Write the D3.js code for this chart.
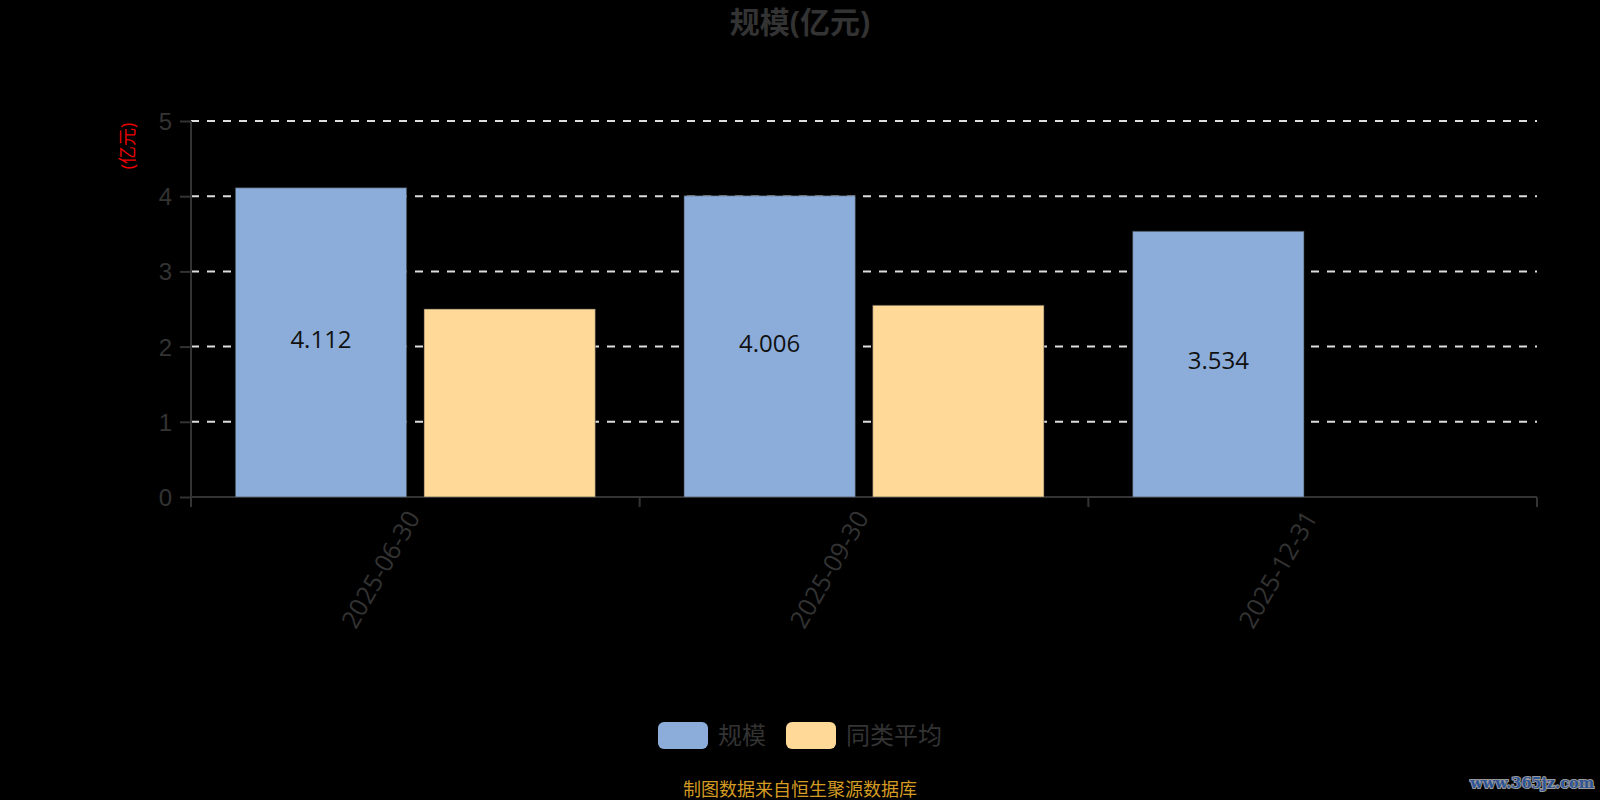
<!DOCTYPE html>
<html>
<head>
<meta charset="utf-8">
<script src="https://cdn.jsdelivr.net/npm/d3@7"></script>
<style>
  body { margin: 0; background: #000; }
  svg { display: block; font-family: "Open Sans", "Noto Sans CJK SC", sans-serif; }
</style>
</head>
<body>
<div id="chart"></div>
<script>
// data
var dates = ["2025-06-30", "2025-09-30", "2025-12-31"];
var scaleVals = [4.112, 4.006, 3.534];   // 规模
var avgVals = [2.5, 2.55, null];         // 同类平均
var seriesNames = ["规模", "同类平均"];
var yTicks = [0, 1, 2, 3, 4, 5];

var width = 1600, height = 800;
var plotLeft = 191, plotRight = 1537, plotTop = 121, plotBottom = 497;

var svg = d3.select("#chart").append("svg")
    .attr("width", width)
    .attr("height", height);

svg.append("rect").attr("width", width).attr("height", height).attr("fill", "#000");

var color = d3.scaleOrdinal().domain(seriesNames).range(["#8cadda", "#ffd998"]);

var x = d3.scaleBand().domain(dates).range([plotLeft, plotRight]).paddingInner(0).paddingOuter(0);
var x1 = d3.scaleBand().domain(seriesNames).range([0, x.bandwidth()]).paddingInner(0.092).paddingOuter(0.235);
var y = d3.scaleLinear().domain([0, 5]).range([plotBottom, plotTop]);

//title
svg.append("text").attr("x", 800).attr("y", 33).attr("text-anchor", "middle")
  .style("font-size", "30px").style("font-weight", "bold").attr("fill", "#333")
  .text("规模(亿元)");

//y axis name
svg.append("text").attr("transform", "translate(134,146) rotate(-90)")
  .attr("text-anchor", "middle").style("font-size", "18px").attr("fill", "#e00")
  .text("(亿元)");

//grid lines
svg.append("g").selectAll("line").data(yTicks.filter(function(d) { return d > 0; })).join("line")
  .attr("x1", plotLeft).attr("x2", plotRight)
  .attr("y1", function(d) { return y(d); }).attr("y2", function(d) { return y(d); })
  .attr("stroke", "#ddd").attr("stroke-width", 2).attr("stroke-dasharray", "8,8");

//y axis
var yAxis = svg.append("g").attr("transform", "translate(" + plotLeft + ",0)")
  .call(d3.axisLeft(y).tickValues(yTicks).tickSize(11).tickPadding(8).tickFormat(d3.format("d")));
yAxis.select(".domain").attr("stroke", "#333").attr("stroke-width", 2).attr("d", "M0," + plotTop + "V" + plotBottom);
yAxis.selectAll(".tick line").attr("stroke", "#333").attr("stroke-width", 2);
yAxis.selectAll(".tick text").attr("fill", "#333").style("font-size", "24px").attr("dy", "0.35em");

//x axis with ticks on band boundaries
var xg = svg.append("g").attr("transform", "translate(0," + plotBottom + ")");
xg.append("line").attr("x1", plotLeft).attr("x2", plotRight).attr("stroke", "#333").attr("stroke-width", 2);
var bounds = dates.map(function(d) { return x(d); }).concat([plotRight]);
xg.selectAll(".xt").data(bounds).join("line").attr("class", "xt")
  .attr("x1", function(d) { return d; }).attr("x2", function(d) { return d; })
  .attr("y1", 0).attr("y2", 10).attr("stroke", "#333").attr("stroke-width", 2);
xg.selectAll(".xl").data(dates).join("text").attr("class", "xl")
  .attr("transform", function(d) { return "translate(" + (x(d) + x.bandwidth() / 2 - 2) + ",16) rotate(-60)"; })
  .attr("text-anchor", "end").attr("dy", "0.35em")
  .style("font-size", "25px").attr("fill", "#333")
  .text(function(d) { return d; });

//bars
var rows = dates.map(function(d, i) { return { date: d, vals: [scaleVals[i], avgVals[i]] }; });
var groups = svg.append("g").selectAll("g").data(rows).join("g")
  .attr("transform", function(d) { return "translate(" + x(d.date) + ",0)"; });

groups.selectAll("rect").data(function(d) {
    return seriesNames.map(function(s, j) { return { name: s, v: d.vals[j] }; }).filter(function(e) { return e.v != null; });
  }).join("rect")
  .attr("x", function(d) { return x1(d.name); })
  .attr("width", x1.bandwidth())
  .attr("y", function(d) { return y(d.v); })
  .attr("height", function(d) { return plotBottom - y(d.v); })
  .attr("fill", function(d) { return color(d.name); })
  .attr("stroke", "rgba(60,60,60,0.6)").attr("stroke-width", 1);

//value labels on 规模 bars
groups.append("text")
  .attr("x", function(d) { return x1(seriesNames[0]) + x1.bandwidth() / 2; })
  .attr("y", function(d) { return (y(d.vals[0]) + plotBottom) / 2; })
  .attr("text-anchor", "middle").attr("dy", "0.22em")
  .style("font-size", "24px").attr("fill", "#111")
  .text(function(d) { return d.vals[0].toFixed(3); });

//legend
var legend = svg.append("g").selectAll("g").data(seriesNames).join("g")
  .attr("transform", function(d, i) { return "translate(" + [658, 786][i] + ",722)"; });
legend.append("rect").attr("width", 50).attr("height", 27).attr("rx", 6)
  .attr("fill", function(d) { return color(d); });
legend.append("text").attr("x", 60).attr("y", 14).attr("dy", "0.35em")
  .style("font-size", "24px").attr("fill", "#333").text(function(d) { return d; });

//source note
svg.append("text").attr("x", 800).attr("y", 790).attr("text-anchor", "middle").attr("dy", "0.35em")
  .style("font-size", "18px").attr("fill", "#d49b22").text("制图数据来自恒生聚源数据库");

//watermark
svg.append("text").attr("x", 1594).attr("y", 788).attr("text-anchor", "end")
  .style("font-family", "'DejaVu Serif', serif").style("font-size", "14.5px").style("font-weight", "bold")
  .style("paint-order", "stroke")
  .attr("fill", "#2e5496").attr("stroke", "#9a9a9a").attr("stroke-width", 2)
  .text("www.365jz.com");
</script>
</body>
</html>
